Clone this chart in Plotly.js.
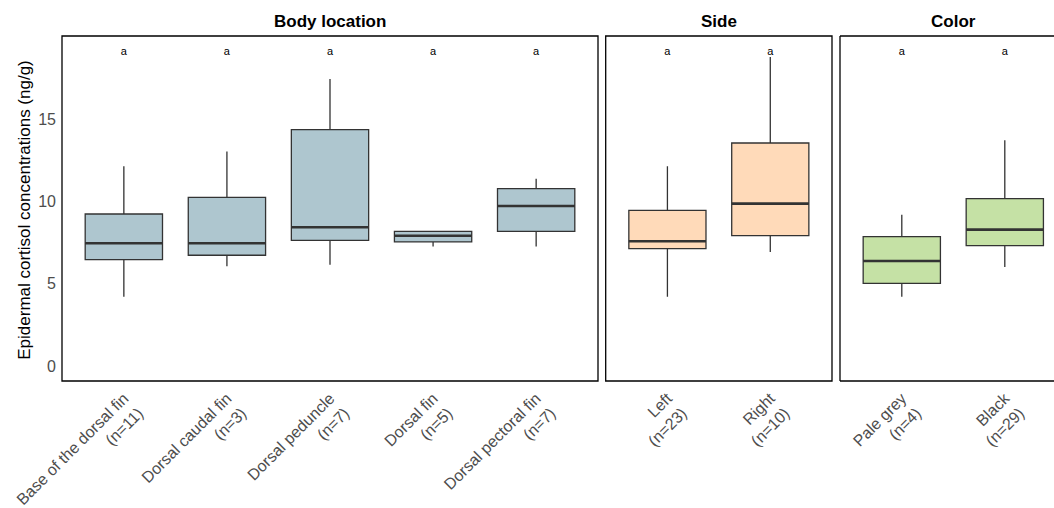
<!DOCTYPE html>
<html>
<head>
<meta charset="utf-8">
<script src="https://cdn.plot.ly/plotly-3.0.1.min.js"></script>
<style>
html, body { margin: 0; padding: 0; overflow: hidden; background: #fff; }
#chart { width: 1054px; height: 508px; }
</style>
</head>
<body>
<div id="chart"></div>
<script>
// ---- Data ----
const bodyCats = ["Base of the dorsal fin", "Dorsal caudal fin", "Dorsal peduncle", "Dorsal fin", "Dorsal pectoral fin"];
const bodyN    = [11, 3, 7, 5, 7];
const bodyLow  = [4.21, 6.07, 6.17, 7.28, 7.28];
const bodyQ1   = [6.47, 6.74, 7.65, 7.55, 8.19];
const bodyMed  = [7.47, 7.47, 8.44, 7.93, 9.74];
const bodyQ3   = [9.25, 10.26, 14.38, 8.19, 10.79];
const bodyHigh = [12.15, 13.06, 17.46, 8.19, 11.40];
const bodyLetters = ["a", "a", "a", "a", "a"];

const sideCats = ["Left", "Right"];
const sideN    = [23, 10];
const sideLow  = [4.21, 6.94];
const sideQ1   = [7.14, 7.93];
const sideMed  = [7.59, 9.88];
const sideQ3   = [9.47, 13.57];
const sideHigh = [12.15, 18.80];
const sideLetters = ["a", "a"];

const colorCats = ["Pale grey", "Black"];
const colorN    = [4, 29];
const colorLow  = [4.21, 6.03];
const colorQ1   = [5.03, 7.33];
const colorMed  = [6.39, 8.30];
const colorQ3   = [7.87, 10.18];
const colorHigh = [9.21, 13.73];
const colorLetters = ["a", "a"];

const letterY = 19.1;
const panelTitles = ["Body location", "Side", "Color"];
const yTicks = [0, 5, 10, 15];

// ---- Layout geometry ----
const W = 1054, H = 508;
const mL = 62, mR = 0, mT = 36, mB = 126.5;
const plotW = W - mL - mR, plotH = H - mT - mB;
const px = v => (v - mL) / plotW;
const domains = [[px(62), px(598)], [px(605.7), px(832)], [px(840), 1]];
const unitPx = 103.0;
const ranges = [[0.4, 5.6], [0.4, 2.6], [0.4, 0.4 + (W - 840) / unitPx]];
const yRange = [-0.91, 20.08];

const fills = ["#AEC6CF", "#FFDAB9", "#C5E1A5"];
const boxW = 0.75;
const edge = "#333333";
const FONT = "Liberation Sans, Arial, sans-serif";

const panels = [
  {cats: bodyCats, n: bodyN, low: bodyLow, q1: bodyQ1, med: bodyMed, q3: bodyQ3, high: bodyHigh, letters: bodyLetters},
  {cats: sideCats, n: sideN, low: sideLow, q1: sideQ1, med: sideMed, q3: sideQ3, high: sideHigh, letters: sideLetters},
  {cats: colorCats, n: colorN, low: colorLow, q1: colorQ1, med: colorMed, q3: colorQ3, high: colorHigh, letters: colorLetters}
];

const traces = [];
const annotations = [];
const shapes = [];
const layout = {
  width: W, height: H,
  margin: {l: mL, r: mR, t: mT, b: mB, pad: 0},
  paper_bgcolor: "#fff", plot_bgcolor: "#fff",
  showlegend: false,
  font: {family: FONT, color: "#4d4d4d"}
};

panels.forEach((p, k) => {
  const sfx = k === 0 ? "" : String(k + 1);
  const xa = "x" + sfx, ya = "y" + sfx;
  const pos = p.cats.map((_, i) => i + 1);
  traces.push({
    type: "box", xaxis: xa, yaxis: ya,
    x: pos, q1: p.q1, median: p.med, q3: p.q3,
    lowerfence: p.low, upperfence: p.high,
    width: boxW, whiskerwidth: 0, boxpoints: false,
    fillcolor: fills[k], line: {color: edge, width: 1.3},
    hoverinfo: "skip"
  });
  // thick median lines
  const mx = [], my = [];
  pos.forEach((x, i) => { mx.push(x - boxW / 2, x + boxW / 2, null); my.push(p.med[i], p.med[i], null); });
  traces.push({
    type: "scatter", mode: "lines", xaxis: xa, yaxis: ya,
    x: mx, y: my, line: {color: edge, width: 2.6}, hoverinfo: "skip", cliponaxis: false
  });
  // letters
  traces.push({
    type: "scatter", mode: "text", xaxis: xa, yaxis: ya,
    x: pos, y: p.letters.map(() => letterY), text: p.letters,
    textfont: {size: 11, color: "#000000", family: FONT},
    textposition: "middle center", hoverinfo: "skip"
  });
  layout["xaxis" + sfx] = {
    domain: domains[k], range: ranges[k], anchor: ya,
    tickmode: "array", tickvals: pos,
    ticktext: p.cats.map((c, i) => c + "<br>(n=" + p.n[i] + ")"),
    tickangle: -45, ticks: "", showgrid: false, zeroline: false, showline: false,
    ticklabelstandoff: 4,
    tickfont: {size: 16, color: "#4d4d4d", family: FONT},
    fixedrange: true
  };
  layout["yaxis" + sfx] = {
    domain: [0, 1], range: yRange, anchor: xa,
    showgrid: false, zeroline: false, showline: false, ticks: "",
    showticklabels: k === 0,
    ticklabelstandoff: 5,
    tickmode: "array", tickvals: yTicks, ticktext: yTicks.map(String),
    tickfont: {size: 16, color: "#4d4d4d", family: FONT},
    fixedrange: true
  };
  if (k > 0) layout["yaxis" + sfx].matches = "y";
  // panel title
  annotations.push({
    xref: "paper", yref: "paper",
    x: (domains[k][0] + (k === 2 ? px(1066.6) : domains[k][1])) / 2,
    y: 1 + (mT - 21) / plotH,
    text: "<b>" + panelTitles[k] + "</b>", showarrow: false,
    xanchor: "center", yanchor: "middle",
    font: {size: 17, color: "#000", family: FONT}
  });
  // borders
  const x0 = domains[k][0], x1 = domains[k][1];
  const ln = {color: "#000", width: 1.3};
  if (k < 2) {
    shapes.push({type: "rect", xref: "paper", yref: "paper", x0: x0, x1: x1, y0: 0, y1: 1, line: ln, layer: "above"});
  } else {
    shapes.push({type: "line", xref: "paper", yref: "paper", x0: x0, x1: x0, y0: 0, y1: 1, line: ln, layer: "above"});
    shapes.push({type: "line", xref: "paper", yref: "paper", x0: x0, x1: 1.01, y0: 0, y1: 0, line: ln, layer: "above"});
    shapes.push({type: "line", xref: "paper", yref: "paper", x0: x0, x1: 1.01, y0: 1, y1: 1, line: ln, layer: "above"});
  }
});

// y-axis title
annotations.push({
  xref: "paper", yref: "paper",
  x: (25 - mL) / plotW, y: 1 - (210 - mT) / plotH,
  text: "Epidermal cortisol concentrations (ng/g)", textangle: -90, showarrow: false,
  xanchor: "center", yanchor: "middle",
  font: {size: 17, color: "#000", family: FONT}
});

layout.annotations = annotations;
layout.shapes = shapes;

Plotly.newPlot("chart", traces, layout, {displayModeBar: false, staticPlot: true});
</script>
</body>
</html>
